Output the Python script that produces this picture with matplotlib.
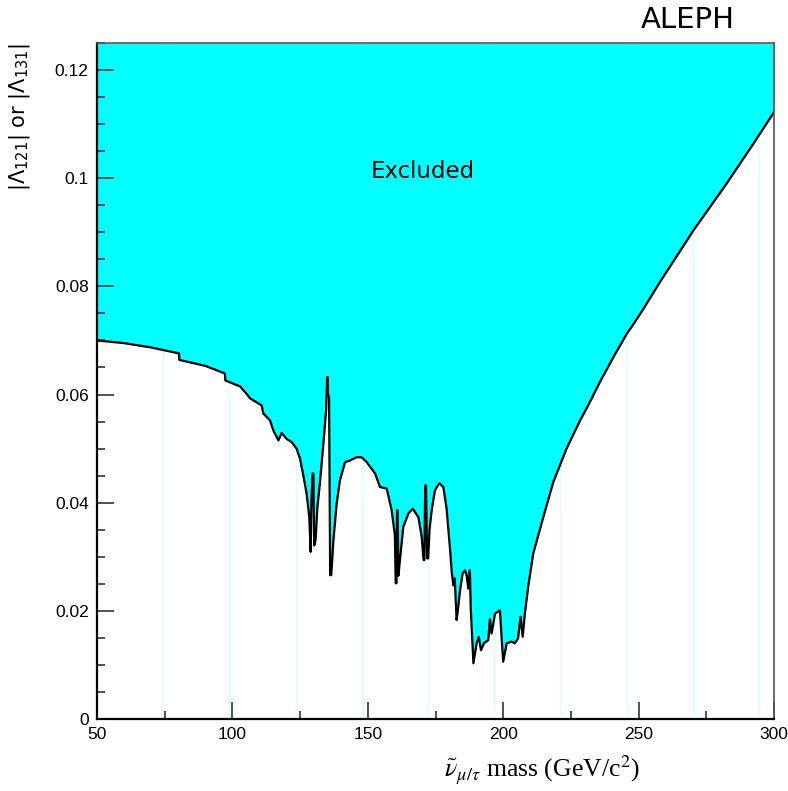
import matplotlib.pyplot as plt
from matplotlib.ticker import MultipleLocator, FuncFormatter

# limit curve: sneutrino mass (GeV/c^2) vs coupling
mass = [50, 60, 70, 80.3, 80.4, 90, 97.2, 97.4, 102.8, 105.3, 106.5, 110.8, 111.4,
        113.9, 115.1, 117.0, 118.2, 120.0, 121.9, 123.7, 125.0, 126.2, 127.4, 128.4,
        128.9, 129.2, 129.6, 129.9, 130.2, 130.7, 131.4, 132.3, 133.6, 134.6, 134.9,
        135.0, 135.2, 135.3, 135.7, 136.1, 136.5, 137.3, 138.5, 139.7, 141.6, 143.4,
        145.9, 147.7, 149.6, 152.7, 154.5, 157.0, 158.8, 160.0, 160.3, 160.6, 160.8,
        161.0, 161.3, 162.0, 163.1, 165.0, 166.6, 168.7, 169.9, 170.6, 170.9, 171.2,
        171.5, 171.9, 172.3, 172.8, 173.6, 174.8, 176.4, 177.9, 179.1, 180.4, 181.0,
        181.6, 182.1, 182.8, 183.4, 184.0, 185.0, 185.9, 186.5, 187.1, 187.7, 188.0,
        189.0, 190.2, 191.0, 191.8, 192.9, 194.5, 195.1, 195.7, 197.0, 198.8, 199.4,
        200.0, 201.3, 203.1, 204.3, 205.5, 206.4, 207.2, 208.0, 209.3, 211.1, 214.8,
        218.5, 223.4, 228.4, 231.4, 235.7, 240.7, 245.6, 248.1, 252.0, 257.9,
        270.2, 282.5, 292.3, 300.0]
limit = [0.0700, 0.0695, 0.0687, 0.0676, 0.0664, 0.0653, 0.0639, 0.0626, 0.0615,
         0.0601, 0.0593, 0.0580, 0.0565, 0.0552, 0.0534, 0.0515, 0.0529, 0.0518,
         0.0512, 0.0500, 0.0481, 0.0450, 0.0417, 0.0373, 0.0309, 0.0404, 0.0454,
         0.0454, 0.0321, 0.0330, 0.0392, 0.0435, 0.0509, 0.0570, 0.0615, 0.0632,
         0.0632, 0.0601, 0.0595, 0.0266, 0.0266, 0.0330, 0.0398, 0.0441, 0.0475,
         0.0478, 0.0484, 0.0484, 0.0475, 0.0454, 0.0429, 0.0426, 0.0386, 0.0340,
         0.0251, 0.0251, 0.0386, 0.0386, 0.0265, 0.0300, 0.0355, 0.0380, 0.0389,
         0.0373, 0.0337, 0.0294, 0.0294, 0.0432, 0.0432, 0.0297, 0.0297, 0.0350,
         0.0386, 0.0423, 0.0436, 0.0429, 0.0389, 0.0312, 0.0272, 0.0247, 0.0260,
         0.0183, 0.0207, 0.0235, 0.0269, 0.0275, 0.0266, 0.0241, 0.0275, 0.0207,
         0.0103, 0.0140, 0.0152, 0.0127, 0.0140, 0.0146, 0.0185, 0.0158, 0.0195,
         0.0201, 0.0152, 0.0106, 0.0140, 0.0143, 0.0140, 0.0149, 0.0189, 0.0152,
         0.0195, 0.0247, 0.0306, 0.0373, 0.0438, 0.0500, 0.0552, 0.0580, 0.0623,
         0.0669, 0.0712, 0.0730, 0.0760, 0.0808, 0.0903, 0.0990, 0.1063, 0.1122]

# faint vertical streaks visible in the white region
streak_x = [74.5, 98.9, 123.4, 148.1, 172.3, 196.7, 221.1, 245.6, 270.2, 294.6]

y_top = 0.125

fig = plt.figure(figsize=(7.88, 7.91), dpi=100)
ax = fig.add_axes([97 / 788, 72 / 791, 677 / 788, 676 / 791])

for xs in streak_x:
    ax.axvline(xs, color="#d8ffff", linewidth=1, zorder=0)

ax.fill_between(mass, limit, y_top, color="#00ffff", linewidth=0, zorder=1)
ax.plot(mass, limit, color="black", linewidth=1.6, zorder=2)

ax.set_xlim(50, 300)
ax.set_ylim(0, y_top)

ax.xaxis.set_major_locator(MultipleLocator(50))
ax.xaxis.set_minor_locator(MultipleLocator(25))
ax.yaxis.set_major_locator(MultipleLocator(0.02))
ax.yaxis.set_minor_locator(MultipleLocator(0.005))
ax.yaxis.set_major_formatter(FuncFormatter(lambda v, p: f"{v:g}"))

ax.tick_params(which="both", direction="in", top=False, right=False,
               labelsize=12.5, width=1.2, color="#333333")
ax.tick_params(which="major", length=12, pad=6)
ax.tick_params(which="minor", length=6)
for lab in ax.get_xticklabels() + ax.get_yticklabels():
    lab.set_fontfamily("Liberation Sans")

for side in ["left", "bottom"]:
    ax.spines[side].set_linewidth(1.6)
    ax.spines[side].set_color("black")
for side in ["right", "top"]:
    ax.spines[side].set_linewidth(1.2)
    ax.spines[side].set_color("#555555")

ax.text(170.4, 0.1013, "Excluded", fontsize=16.5, ha="center", va="center",
        family="DejaVu Sans", zorder=3)

fig.text(688 / 788, 1 - 20 / 791, "ALEPH", fontsize=21, ha="center", va="center",
         family="DejaVu Sans")

fig.text(20 / 788, 1 - 43 / 791, r"$|\Lambda_{121}|$ or $|\Lambda_{131}|$",
         rotation=90, fontsize=15, ha="center", va="top", family="DejaVu Sans")

plt.rcParams["mathtext.fontset"] = "stix"
fig.text(640 / 788, 1 - 770 / 791, r"$\tilde{\nu}_{\mu/\tau}$ mass (GeV/c$^{2}$)",
         fontsize=18.5, ha="right", va="center", family="Liberation Serif")

fig.savefig("out.png", dpi=100)
